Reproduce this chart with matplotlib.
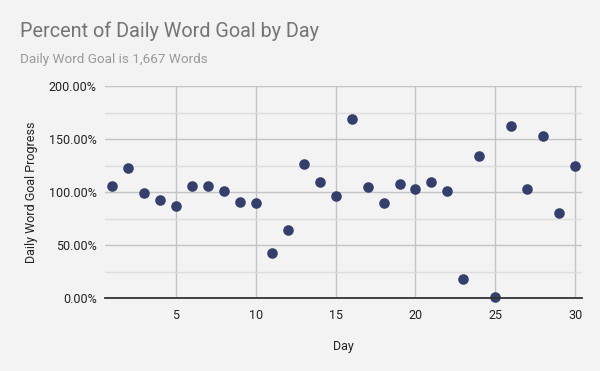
import numpy as np
import matplotlib.pyplot as plt
from matplotlib.ticker import MultipleLocator, FuncFormatter

# ============================
#  DADOS
# ============================
days = list(range(1, 31))
progress = [106, 123, 99, 92, 87, 106, 106, 101, 91, 90,
            42, 64, 126, 109, 96, 169, 105, 90, 108, 103,
            109, 101, 18, 134, 1, 162, 103, 153, 80, 125]

title = "Percent of Daily Word Goal by Day"
subtitle = "Daily Word Goal is 1,667 Words"

BG = "#f3f3f3"
DOT = "#34406b"

plt.rcParams["font.family"] = ["Roboto", "DejaVu Sans"]

fig = plt.figure(figsize=(6, 3.71), dpi=100, facecolor=BG)
W, H = 600, 371
ax = fig.add_axes([105 / W, 1 - 298 / H, (581.5 - 105) / W, (298 - 86) / H])
ax.set_facecolor(BG)

ax.scatter(days, progress, s=58, color=DOT, zorder=3, clip_on=False, linewidths=0)

ax.set_xlim(0.55, 30.4)
ax.set_ylim(0, 200)
ax.xaxis.set_major_locator(MultipleLocator(5))
ax.yaxis.set_major_locator(MultipleLocator(50))
ax.yaxis.set_minor_locator(MultipleLocator(25))
ax.yaxis.set_major_formatter(FuncFormatter(lambda v, p: f"{v:.2f}%"))

ax.grid(axis="x", which="major", color="#c4c4c4", lw=1)
ax.grid(axis="y", which="major", color="#c4c4c4", lw=1)
ax.grid(axis="y", which="minor", color="#dedede", lw=1)
ax.set_axisbelow(True)

for s in ["top", "right", "left"]:
    ax.spines[s].set_visible(False)
ax.spines["bottom"].set_color("#333333")
ax.spines["bottom"].set_linewidth(1.3)
ax.spines["bottom"].set_zorder(4)

ax.tick_params(axis="both", which="both", length=0, labelsize=9, colors="#222222")
ax.tick_params(axis="y", pad=6)
ax.tick_params(axis="x", pad=8)

ax.set_xlabel("Day", fontsize=9, color="#222222", labelpad=13)
ax.set_ylabel("Daily Word Goal Progress", fontsize=9, color="#222222", labelpad=8)

fig.text(20 / W, 1 - 37 / H, title, fontsize=14.3, color="#757575", ha="left", va="baseline")
fig.text(20 / W, 1 - 63 / H, subtitle, fontsize=9.7, color="#9a9a9a", ha="left", va="baseline")

fig.savefig("out.png", dpi=100, facecolor=BG)
